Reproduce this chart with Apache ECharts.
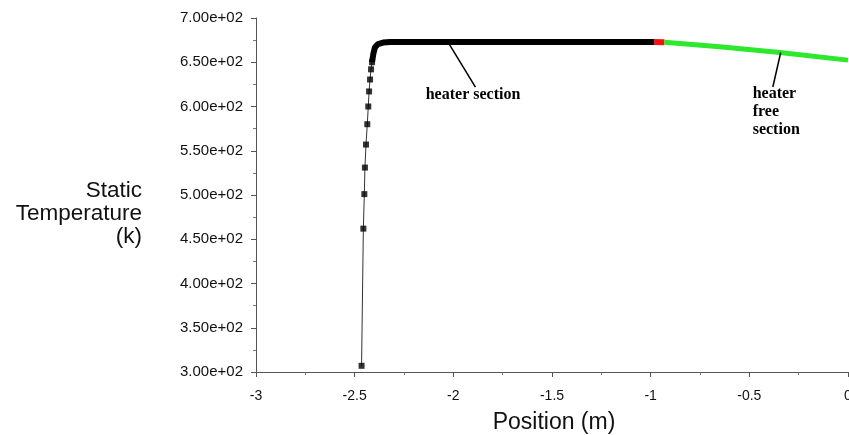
<!DOCTYPE html>
<html>
<head>
<meta charset="utf-8">
<script src="https://cdn.jsdelivr.net/npm/echarts@6/dist/echarts.min.js"></script>
<style>
  html, body { margin: 0; padding: 0; background: #fff; }
  #chart { width: 849px; height: 435px; }
</style>
</head>
<body>
<div id="chart"></div>
<script>
// sparse markers on the steep rise
const rampX = [-2.465, -2.456, -2.451, -2.448, -2.4425, -2.436, -2.431, -2.427, -2.422, -2.417, -2.412];
const rampY = [307, 462, 501, 531, 557, 580, 600, 617, 630.5, 642, 650];
// dense black markers (heater section)
const heaterX = [-2.412, -2.405, -2.397, -2.382, -2.356, -2.321, -1.5, -0.98];
const heaterY = [650, 660, 667, 670.5, 672.2, 672.8, 672.8, 672.8];
// short red stretch
const transX = [-0.98, -0.93];
const transY = [672.8, 672.6];
// green (heater free section)
const freeX = [-0.93, -0.65, -0.345, 0];
const freeY = [672.6, 667.5, 661, 652.4];

const xTicks = { min: -3, max: 0, step: 0.5 };
const yTicks = { min: 300, max: 700, step: 50 };

function pairs(xs, ys) {
  return xs.map((x, i) => [x, ys[i]]);
}

function expLabel(v) {
  // 700 -> 7.00e+02
  const p = Math.floor(Math.log10(v));
  const m = (v / Math.pow(10, p)).toFixed(2);
  return m + 'e+' + String(p).padStart(2, '0');
}

var myChart = echarts.init(document.getElementById('chart'));

const axisCommon = {
  type: 'value',
  axisLine: { show: true, onZero: false, lineStyle: { color: '#555', width: 1 } },
  axisTick: { show: true, length: 5, lineStyle: { color: '#555' } },
  minorTick: { show: true, splitNumber: 2, length: 3, lineStyle: { color: '#777' } },
  splitLine: { show: false },
  minorSplitLine: { show: false }
};

myChart.setOption({
  animation: false,
  backgroundColor: '#fff',
  grid: { left: 256, right: 1, top: 18, bottom: 63, containLabel: false, outerBoundsMode: 'none' },
  xAxis: Object.assign({}, axisCommon, {
    min: xTicks.min, max: xTicks.max, interval: xTicks.step,
    axisLabel: {
      color: '#111', fontSize: 14, fontFamily: 'Liberation Sans, Arial', margin: 17,
      formatter: v => String(v)
    }
  }),
  yAxis: Object.assign({}, axisCommon, {
    min: yTicks.min, max: yTicks.max, interval: yTicks.step,
    axisLabel: {
      color: '#111', fontSize: 15, fontFamily: 'Liberation Sans, Arial', margin: 13,
      formatter: expLabel
    }
  }),
  series: [{
    // thin connecting line through the rise
    type: 'line',
    data: pairs(rampX, rampY),
    symbol: 'none',
    lineStyle: { color: '#333', width: 1 },
    z: 2
  }, {
    type: 'scatter',
    data: pairs(rampX, rampY),
    symbol: 'rect',
    symbolSize: 6,
    itemStyle: { color: '#000' },
    z: 3
  }, {
    type: 'line',
    data: pairs(heaterX, heaterY),
    symbol: 'none',
    lineStyle: { color: '#000', width: 6 },
    z: 3
  }, {
    type: 'line',
    data: pairs(transX, transY),
    symbol: 'none',
    lineStyle: { color: '#ff1010', width: 6 },
    z: 3
  }, {
    type: 'line',
    data: pairs(freeX, freeY),
    symbol: 'none',
    lineStyle: { color: '#2ee82e', width: 5 },
    z: 3
  }]
});

// annotations placed in data coordinates
const px = (x, y) => myChart.convertToPixel({ gridIndex: 0 }, [x, y]);
const a1 = px(-2.027, 672.8), a2 = px(-1.888, 622);
const b1 = px(-0.341, 661), b2 = px(-0.381, 622);
const t1 = px(-2.14, 613.5), t2 = px(-0.483, 624);
const serif = { fontFamily: 'Liberation Serif, Times New Roman', fontWeight: 'bold', fontSize: 16, fill: '#000' };

myChart.setOption({
  graphic: [
    { type: 'line', shape: { x1: a1[0], y1: a1[1], x2: a2[0], y2: a2[1] }, style: { stroke: '#000', lineWidth: 1.5 }, z: 10 },
    { type: 'line', shape: { x1: b1[0], y1: b1[1], x2: b2[0], y2: b2[1] }, style: { stroke: '#000', lineWidth: 1.5 }, z: 10 },
    { type: 'text', x: t1[0], y: t1[1], style: Object.assign({ text: 'heater section', verticalAlign: 'middle' }, serif), z: 10 },
    { type: 'text', x: t2[0], y: t2[1], style: Object.assign({ text: 'heater\nfree\nsection', verticalAlign: 'top', lineHeight: 18 }, serif), z: 10 },
    { type: 'text', x: 142, y: 179, style: { text: 'Static\nTemperature\n(k)', align: 'right', verticalAlign: 'top', fontSize: 22.5, lineHeight: 23, fontFamily: 'Liberation Sans, Arial', fill: '#111' } },
    { type: 'text', x: 554, y: 423, style: { text: 'Position (m)', align: 'center', verticalAlign: 'middle', fontSize: 23, fontFamily: 'Liberation Sans, Arial', fill: '#111' } }
  ]
});
</script>
</body>
</html>
